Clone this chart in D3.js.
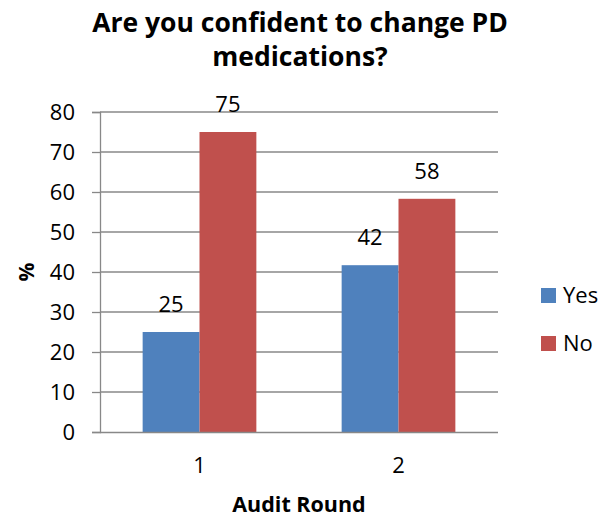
<!DOCTYPE html>
<html><head><meta charset="utf-8">
<script src="https://cdn.jsdelivr.net/npm/d3@7"></script>
<style>body{margin:0;background:#fff}svg{display:block}text{font-family:"Open Sans",Lato,sans-serif}</style>
</head><body>
<svg id="c" width="614" height="524"></svg>
<script>
const categories = ["1", "2"];
const seriesNames = ["Yes", "No"];
const yesValues = [25, 41.7];
const noValues = [75, 58.3];
const yesLabels = ["25", "42"];
const noLabels = ["75", "58"];
const yTicks = [0, 10, 20, 30, 40, 50, 60, 70, 80];
const colors = ["#4F81BD", "#C0504D"];

const svg = d3.select("#c");
const pLeft = 100, pRight = 498, pTop = 112, pBottom = 432;
const x0 = d3.scaleBand().domain(categories).range([pLeft, pRight]).paddingInner(0.4286).paddingOuter(0.2143);
const x1 = d3.scaleBand().domain(seriesNames).range([0, x0.bandwidth()]);
const y = d3.scaleLinear().domain([0, 80]).range([pBottom, pTop]);
const color = d3.scaleOrdinal().domain(seriesNames).range(colors);
const FF = "Open Sans";

// gridlines
svg.append("g").selectAll("line").data(yTicks.filter(d => d > 0)).join("line")
  .attr("x1", pLeft).attr("x2", pRight).attr("y1", d => y(d)).attr("y2", d => y(d))
  .attr("stroke", "#888").attr("stroke-width", 1.3);

// y axis
const ya = svg.append("g").attr("transform", `translate(${pLeft},0)`)
  .call(d3.axisLeft(y).tickValues(yTicks).tickSize(8).tickPadding(17));
ya.select(".domain").attr("stroke", "#888").attr("stroke-width", 1.3);
ya.selectAll(".tick line").attr("stroke", "#888").attr("stroke-width", 1.3);
ya.selectAll(".tick text").attr("font-size", 22).attr("fill", "#000").attr("font-family", FF);

const rows = categories.map((c, i) => ({cat: c, vals: [
  {s: "Yes", v: yesValues[i], l: yesLabels[i]}, {s: "No", v: noValues[i], l: noLabels[i]}]}));

const g = svg.append("g").selectAll("g").data(rows).join("g")
  .attr("transform", d => `translate(${x0(d.cat)},0)`);
g.selectAll("rect").data(d => d.vals).join("rect")
  .attr("x", d => x1(d.s)).attr("width", x1.bandwidth())
  .attr("y", d => y(d.v)).attr("height", d => y(0) - y(d.v))
  .attr("fill", d => color(d.s));
g.selectAll("text").data(d => d.vals).join("text")
  .attr("x", d => x1(d.s) + x1.bandwidth() / 2).attr("y", d => y(d.v) - 20)
  .attr("text-anchor", "middle").attr("font-size", 22).attr("fill", "#000").text(d => d.l);

// x axis
const xa = svg.append("g").attr("transform", `translate(0,${pBottom})`)
  .call(d3.axisBottom(x0).tickSize(0).tickPadding(25));
xa.select(".domain").attr("stroke", "#888").attr("stroke-width", 1.3).attr("d", `M${pLeft},0.5H${pRight}`);
xa.selectAll(".tick text").attr("font-size", 22).attr("fill", "#000").attr("font-family", FF);

// titles
const title = svg.append("text").attr("text-anchor", "middle").attr("font-size", 26.5).attr("font-weight", "bold");
title.append("tspan").attr("x", 300).attr("y", 32).text("Are you confident to change PD");
title.append("tspan").attr("x", 300).attr("y", 66).text("medications?");
svg.append("text").attr("x", 299).attr("y", 512).attr("text-anchor", "middle")
  .attr("font-size", 21.5).attr("font-weight", "bold").text("Audit Round");
svg.append("text").attr("transform", "translate(34,272) rotate(-90)").attr("text-anchor", "middle")
  .attr("font-size", 21).attr("font-weight", "bold").text("%");

// legend
const lg = svg.append("g").selectAll("g").data(seriesNames).join("g")
  .attr("transform", (d, i) => `translate(541,${288 + i * 48})`);
lg.append("rect").attr("width", 15).attr("height", 15).attr("fill", d => color(d));
lg.append("text").attr("x", 22).attr("y", 15).attr("font-size", 22).attr("fill", "#000").text(d => d);
</script>
</body></html>
